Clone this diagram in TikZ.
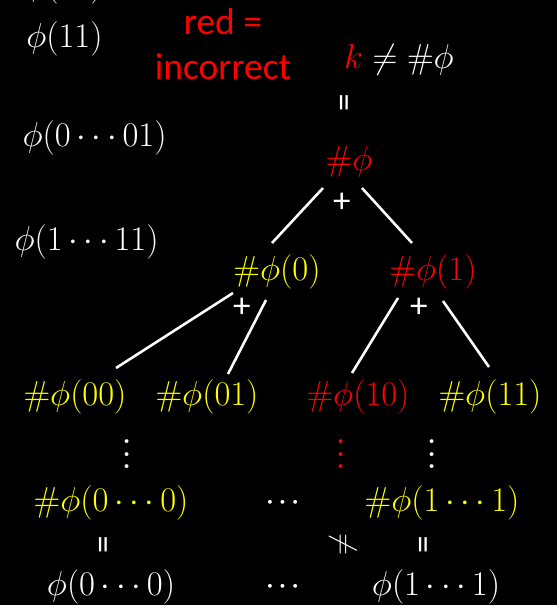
\RequirePackage{fix-cm}
\documentclass[tikz,border=0pt]{standalone}
\usepackage{amsmath,amssymb}
\usepackage{fontspec}
\newfontfamily\notefont{Carlito}
\definecolor{hiyellow}{RGB}{255,255,0}
\definecolor{hired}{RGB}{255,0,0}
\usetikzlibrary{positioning, calc}
\newcommand{\coldots}{\rotatebox{90}{\fontsize{21}{23}\selectfont\boldmath$\cdots$}}
\tikzset{
  term/.style={inner sep=1pt, font=\fontsize{29.5}{32}\selectfont},
  goodterm/.style={term, text=hiyellow},
  badterm/.style={term, text=hired},
  plainterm/.style={term, text=white},
  gapdots/.style={inner sep=1pt, text=white, font=\fontsize{21}{23}\selectfont\boldmath},
  vrel/.style={inner sep=0pt, text=white, rotate=90, font=\notefont\fontsize{30}{32}\selectfont},
  branch/.style={white, line width=2.2pt},
  plus/.style={inner sep=0pt, text=white, font=\notefont\fontsize{30}{32}\selectfont}
}

\begin{document}
\begin{tikzpicture}[x=0.03cm, y=-0.03cm]
        \fill[black] (0,0) rectangle (557,605);
        \useasboundingbox (0,0) rectangle (557,605);
        \node[plainterm, anchor=east] (p10) at (104,-13) {$\phi(10)$};
        \node[plainterm, anchor=east] (p11) at (104,39) {$\phi(11)$};
        \node[plainterm, anchor=east] (p0s1) at (168,138) {$\phi(0\cdots01)$};
        \node[plainterm, anchor=east] (p1s1) at (160,242) {$\phi(1\cdots11)$};
        \node[text=hired, align=center, font=\notefont\fontsize{32}{38}\selectfont] (note) at (223,44) {red =\\incorrect};
        \node[plainterm] (claim) at (399,60) {$\textcolor{hired}{k}\neq\#\phi$};
        \node[vrel] (eqtop) at (348,103) {=};
        \node[badterm] (root) at (349,162) {$\#\phi$};
        \node[plus] (proot) at (342,203) {+};
        \node[goodterm] (n0) at (277,272) {$\#\phi(0)$};
        \node[badterm] (n1) at (433,272) {$\#\phi(1)$};
        \node[plus] (pn0) at (242,308) {+};
        \node[plus] (pn1) at (419,308) {+};
        \node[goodterm] (n00) at (75,397) {$\#\phi(00)$};
        \node[goodterm] (n01) at (207,397) {$\#\phi(01)$};
        \node[badterm] (n10) at (358,397) {$\#\phi(10)$};
        \node[goodterm] (n11) at (490,397) {$\#\phi(11)$};
        \node[gapdots] (d00) at (127,452) {\coldots};
        \node[gapdots, text=hired] (d10) at (341,452) {\coldots};
        \node[gapdots] (d11) at (432,452) {\coldots};
        \node[goodterm] (nall0) at (111,503) {$\#\phi(0\cdots0)$};
        \node[gapdots] (mid) at (285,503) {$\cdots$};
        \node[goodterm] (nall1) at (442,503) {$\#\phi(1\cdots1)$};
        \node[vrel] (eq0) at (107,545) {=};
        \node[vrel, font=\fontsize{26}{28}\selectfont] (neq) at (343,545) {$\neq$};
        \node[vrel] (eq1) at (427,545) {=};
        \node[plainterm] (pall0) at (111,587) {$\phi(0\cdots0)$};
        \node[gapdots] (midb) at (285,587) {$\cdots$};
        \node[plainterm] (pall1) at (436,587) {$\phi(1\cdots1)$};
        \draw[branch] ([shift={(-26,26)}]root.center) -- ([shift={(-5,-29)}]n0.center);
        \draw[branch] ([shift={(13,26)}]root.center) -- ([shift={(-21,-29)}]n1.center);
        \draw[branch] ([shift={(-44,21)}]n0.center) -- ([shift={(41,-29)}]n00.center);
        \draw[branch] ([shift={(-11,28)}]n0.center) -- ([shift={(21,-23)}]n01.center);
        \draw[branch] ([shift={(-35,26)}]n1.center) -- ([shift={(-6,-24)}]n10.center);
        \draw[branch] ([shift={(10,29)}]n1.center) -- ([shift={(-1,-30)}]n11.center);
      \end{tikzpicture}
\end{document}
